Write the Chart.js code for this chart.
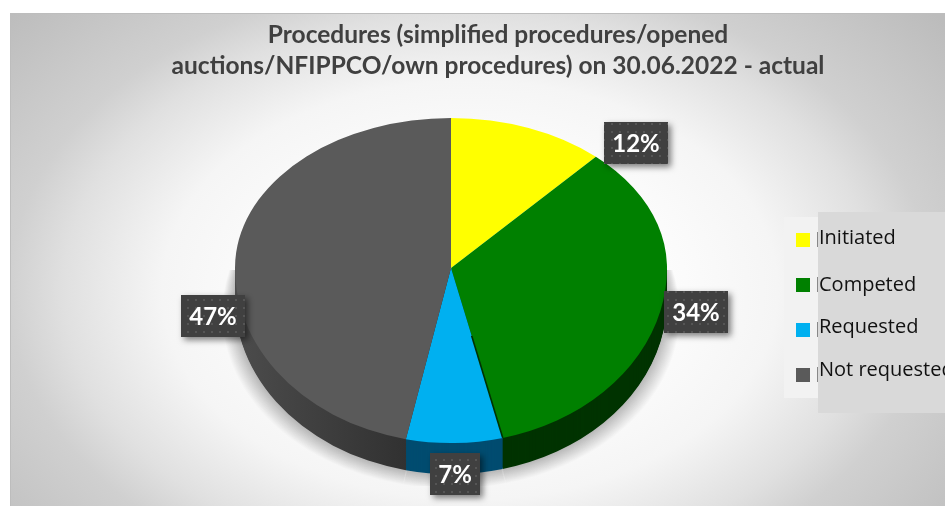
<!DOCTYPE html>
<html>
<head>
<meta charset="utf-8">
<style>
  html, body { margin: 0; padding: 0; background: #fff; }
  #wrap { width: 945px; height: 506px; }
</style>
<script src="https://cdn.jsdelivr.net/npm/chart.js@4"></script>
</head>
<body>
<div id="wrap"><canvas id="myChart" width="945" height="506"></canvas></div>
<script>
// DATA

const titleLines = [
  "Procedures (simplified procedures/opened",
  "auctions/NFIPPCO/own procedures) on 30.06.2022 - actual",
];
const categories = ["Initiated", "Competed", "Requested", "Not requested"];
const shares = [11.7, 34.45, 7.2, 46.65];
const sliceColors = ["#ffff00", "#008000", "#00b0f0", "#5a5a5a"];

// label box centres, measured from the pie centre
const labelOffsets = [[185, -125], [245, 44], [4, 206], [-238, 48]];

// PIE SHAPE (flattened top, deeper front, like the 3D tilt in the picture)

const pieX = 451;
const pieY = 268;
const pieRx = 216;
const pieRyTop = 150;
const pieRyBottom = 175;
const pieDepth = 31;

function pieTransform(ctx, arcs, dy, top, grow) {
  const r = arcs[0].outerRadius;
  ctx.translate(pieX, pieY + dy);
  ctx.scale((pieRx + grow) / r, (top ? pieRyTop : pieRyBottom) / r);
  ctx.translate(-arcs[0].x, -arcs[0].y);
}

function drawArcs(ctx, arcs, colors) {
  arcs.forEach((arc, i) => {
    const saved = arc.options;
    arc.options = Object.assign({}, saved, { backgroundColor: colors[i] });
    arc.draw(ctx);
    arc.options = saved;
  });
}

function drawHalf(ctx, arcs, colors, dy, top) {
  ctx.save();
  ctx.beginPath();
  if (top) ctx.rect(0, 0, 945, pieY + dy + 0.5);
  else ctx.rect(0, pieY + dy, 945, 506);
  ctx.clip();
  pieTransform(ctx, arcs, dy, top, 0);
  drawArcs(ctx, arcs, colors);
  ctx.restore();
}

// side wall colours, the grey one gets darker towards the front
function wallColors(ctx, arcs) {
  const x = arcs[0].x;
  const r = arcs[0].outerRadius;
  const grey = ctx.createLinearGradient(x - r, 0, x, 0);
  grey.addColorStop(0, "#4c4c4c");
  grey.addColorStop(1, "#2a2a2a");
  return ["#8a8a00", "#003300", "#004c70", grey];
}

const backgroundPlugin = {
  id: "panel",
  beforeDraw(chart) {
    const ctx = chart.ctx;
    ctx.save();
    ctx.fillStyle = "#ffffff";
    ctx.fillRect(0, 0, 945, 506);
    ctx.beginPath();
    ctx.rect(10, 13, 935, 493);
    ctx.clip();
    ctx.translate(470, 290);
    ctx.scale(1, 0.68);
    const g = ctx.createRadialGradient(0, 0, 0, 0, 0, 616);
    g.addColorStop(0, "#ffffff");
    g.addColorStop(0.25, "#ffffff");
    g.addColorStop(0.5, "#f5f5f5");
    g.addColorStop(0.66, "#e0e0e0");
    g.addColorStop(0.75, "#d0d0d0");
    g.addColorStop(1, "#bcbcbc");
    ctx.fillStyle = g;
    ctx.fillRect(-700, -700, 1400, 1400);
    ctx.restore();
    ctx.fillStyle = "#bdbdbd";
    ctx.fillRect(10, 13, 935, 1);
    ctx.fillRect(10, 13, 1, 493);
  },
};

const pie3dPlugin = {
  id: "pie3d",
  beforeDatasetsDraw(chart) {
    const ctx = chart.ctx;
    const arcs = chart.getDatasetMeta(0).data;
    const walls = wallColors(ctx, arcs);

    // ground shadow: thin see-through copies, cut off by a box around the pie
    const shade = arcs.map(() => "rgba(0,0,0,0.017)");
    for (let s = 16; s > 0; s--) {
      ctx.save();
      ctx.beginPath();
      ctx.rect(222, 270, 458, 216);
      ctx.clip();
      pieTransform(ctx, arcs, pieDepth + s * 0.9, false, s * 0.8);
      drawArcs(ctx, arcs, shade);
      ctx.restore();
    }

    for (let d = pieDepth; d > 0; d--) {
      drawHalf(ctx, arcs, walls, d, false);
    }
    drawHalf(ctx, arcs, sliceColors, 0, true);
    drawHalf(ctx, arcs, sliceColors, 0, false);

    // dark seam on the green side of the green/blue edge
    const end = arcs[1].endAngle;
    const r = arcs[1].outerRadius;
    ctx.save();
    ctx.beginPath();
    ctx.rect(0, pieY, 945, 506);
    ctx.clip();
    pieTransform(ctx, arcs, 0, false, 0);
    ctx.strokeStyle = "#003300";
    ctx.lineWidth = 1.6;
    ctx.beginPath();
    ctx.moveTo(arcs[1].x + 0.4 * r * Math.cos(end), arcs[1].y + 0.4 * r * Math.sin(end));
    ctx.lineTo(arcs[1].x + r * Math.cos(end), arcs[1].y + r * Math.sin(end));
    ctx.stroke();
    ctx.restore();
    return false;
  },
};

// dotted fill of the value labels
function dotPattern(ctx) {
  const tile = document.createElement("canvas");
  tile.width = 8;
  tile.height = 8;
  const t = tile.getContext("2d");
  t.fillStyle = "#404040";
  t.fillRect(0, 0, 8, 8);
  t.fillStyle = "#555555";
  t.fillRect(3, 3, 2, 2);
  return ctx.createPattern(tile, "repeat");
}

function drawValueLabels(chart) {
  const ctx = chart.ctx;
  const values = chart.data.datasets[0].data;
  const total = values.reduce((a, b) => a + b, 0);
  ctx.save();
  ctx.font = "bold 24px Lato";
  ctx.textAlign = "center";
  ctx.textBaseline = "middle";
  values.forEach((v, i) => {
    const text = Math.round((v / total) * 100) + "%";
    const w = Math.round(ctx.measureText(text).width) + 16;
    const x = pieX + labelOffsets[i][0];
    const y = pieY + labelOffsets[i][1];
    ctx.save();
    ctx.shadowColor = "rgba(0,0,0,0.5)";
    ctx.shadowBlur = 6;
    ctx.shadowOffsetX = 3;
    ctx.shadowOffsetY = 3;
    ctx.fillStyle = dotPattern(ctx);
    ctx.fillRect(x - w / 2, y - 21, w, 42);
    ctx.restore();
    ctx.fillStyle = "#ffffff";
    ctx.fillText(text, x, y + 1);
  });
  ctx.restore();
}

// LEGEND

const legendBoxY = [233, 278, 323, 368];
const legendTextY = [244, 291, 333, 376];

function drawLegend(chart) {
  const ctx = chart.ctx;
  ctx.save();
  ctx.fillStyle = "#f2f2f2";
  ctx.fillRect(784, 217, 34, 181);
  ctx.fillStyle = "#d9d9d9";
  ctx.fillRect(818, 212, 127, 201);
  ctx.font = "20px 'Open Sans'";
  ctx.textBaseline = "alphabetic";
  chart.data.labels.forEach((name, i) => {
    ctx.fillStyle = sliceColors[i];
    ctx.fillRect(796, legendBoxY[i], 14, 14);
    ctx.fillStyle = "#888888";
    ctx.fillRect(817, legendBoxY[i] - 1, 1, 15);
    ctx.fillStyle = "#111111";
    ctx.fillText(name, 819, legendTextY[i]);
  });
  ctx.restore();
}

const overlayPlugin = {
  id: "overlay",
  afterDraw(chart) {
    drawValueLabels(chart);
    drawLegend(chart);
  },
};

// DRAWING

new Chart(document.getElementById("myChart").getContext("2d"), {
  type: "pie",
  data: {
    labels: categories,
    datasets: [
      {
        data: shares,
        backgroundColor: sliceColors,
        borderWidth: 0,
      },
    ],
  },
  plugins: [backgroundPlugin, pie3dPlugin, overlayPlugin],
  options: {
    responsive: false,
    animation: false,
    layout: { padding: { left: 51 } },
    plugins: {
      legend: { display: false },
      tooltip: { enabled: false },
      title: {
        display: true,
        text: titleLines,
        color: "#404040",
        font: { family: "Lato", size: 24.5, weight: "bold", lineHeight: 1.265 },
        padding: { top: 20, bottom: 10 },
      },
    },
  },
});
</script>
</body>
</html>
